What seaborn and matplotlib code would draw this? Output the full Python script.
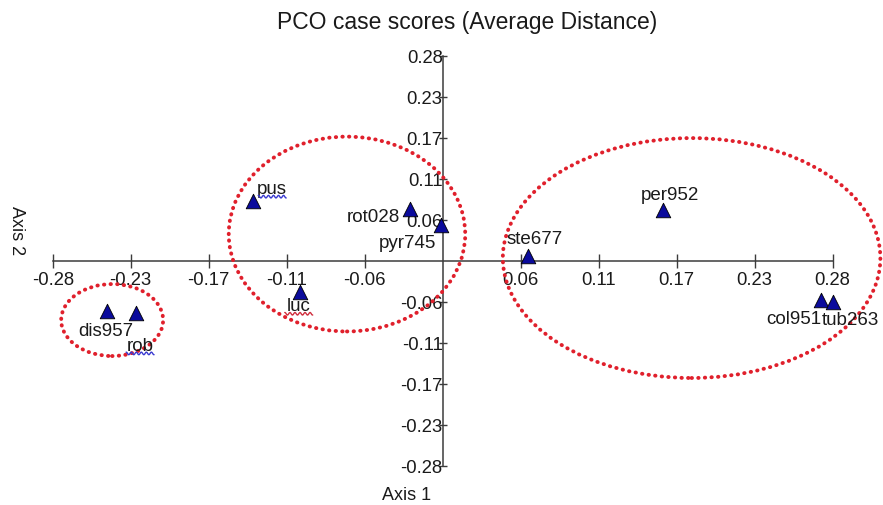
import matplotlib
matplotlib.use("Agg")
import matplotlib.pyplot as plt
import matplotlib.transforms as mtransforms
from matplotlib.patches import Ellipse
import numpy as np
import pandas as pd
import seaborn as sns

# PCO scores
cases = ["pus", "rot028", "pyr745", "luc", "dis957", "rob",
         "ste677", "per952", "col951", "tub263"]
axis1 = [-0.137, -0.0236, -0.0014, -0.103, -0.243, -0.2217,
         0.062, 0.1595, 0.2735, 0.2825]
axis2 = [0.0826, 0.071, 0.049, -0.0427, -0.0688, -0.0725,
         0.0069, 0.0697, -0.054, -0.057]

# label offsets from each marker, in pixels (dx, dy)
label_dx = [19, -37, -33, -1.5, -1, 4, 6, 7, -27, 17]
label_dy = [12, -7, -17, -14, -20, -32, 17, 16, -19, -17]

tick_values = [-0.282, -0.2256, -0.1692, -0.1128, -0.0564,
               0.0564, 0.1128, 0.1692, 0.2256, 0.282]
tick_labels = ["-0.28", "-0.23", "-0.17", "-0.11", "-0.06",
               "0.06", "0.11", "0.17", "0.23", "0.28"]

# hand-drawn group outlines: centre x, centre y, width, height
group_cx = [-0.239, -0.0692, 0.180]
group_cy = [-0.0816, 0.0367, 0.0037]
group_w = [0.0737, 0.171, 0.273]
group_h = [0.099, 0.268, 0.330]

# spell-check squiggles under some labels: case, colour
squiggle_case = ["pus", "rob", "luc"]
squiggle_color = ["#3a3ad0", "#3a3ad0", "#d03040"]

df = pd.DataFrame({"case": cases, "Axis 1": axis1, "Axis 2": axis2})

sns.set_style("white")
plt.rcParams["font.family"] = ["Liberation Sans", "DejaVu Sans"]

fig = plt.figure(figsize=(8.83, 5.06), dpi=100)
ax = fig.add_axes([0, 0, 1, 1])
ax.set_xlim(-0.3201, 0.3184)
ax.set_ylim(-0.336, 0.360)
ax.patch.set_alpha(0)

axis_color = "#3c3c3c"
text_color = "#1a1a1a"
for side in ["top", "right"]:
    ax.spines[side].set_visible(False)
ax.spines["left"].set_position(("data", 0))
ax.spines["bottom"].set_position(("data", 0))
ax.spines["left"].set_bounds(-0.282, 0.282)
ax.spines["bottom"].set_bounds(-0.282, 0.282)
for side in ["left", "bottom"]:
    ax.spines[side].set_color(axis_color)
    ax.spines[side].set_linewidth(1.1)

ax.set_xticks(tick_values)
ax.set_xticklabels(tick_labels)
ax.set_yticks(tick_values)
ax.set_yticklabels(tick_labels)
ax.tick_params(axis="x", bottom=True, direction="inout", length=9.4, width=1.0,
               color=axis_color, pad=3, labelsize=13.3, labelcolor=text_color)
ax.tick_params(axis="y", left=True, direction="inout", length=5.5, width=1.0,
               color=axis_color, pad=-2.8, labelsize=13.3, labelcolor=text_color)

for cx, cy, w, h in zip(group_cx, group_cy, group_w, group_h):
    ax.add_patch(Ellipse((cx, cy), w, h, fill=False, edgecolor="#e0202c",
                         linewidth=2.8, linestyle=(0, (0.1, 1.6)),
                         capstyle="round", zorder=4))

sns.scatterplot(data=df, x="Axis 1", y="Axis 2", marker="^", s=110,
                color="#0b0b9c", edgecolor="black", linewidth=0.6,
                ax=ax, zorder=5, legend=False)
ax.set_xlabel("")
ax.set_ylabel("")

for name, x, y, dx, dy in zip(cases, axis1, axis2, label_dx, label_dy):
    ax.annotate(name, (x, y), xytext=(dx * 0.72, dy * 0.72),
                textcoords="offset points", ha="center", va="center",
                fontsize=13.5, color=text_color, zorder=6)

# wavy underline like in the source document
fig.canvas.draw()
wave_x = np.linspace(-14, 14, 57)
wave_y = 1.3 * np.sin(wave_x * 1.25)
for name, col in zip(squiggle_case, squiggle_color):
    i = cases.index(name)
    px, py = ax.transData.transform((axis1[i], axis2[i]))
    tx, ty = px + label_dx[i], py + label_dy[i] - 8
    tr = mtransforms.Affine2D().translate(tx, ty)
    ax.plot(wave_x, wave_y, color=col, linewidth=1.0, transform=tr, zorder=6)

fig.text(0.529, 0.9565, "PCO case scores (Average Distance)",
         ha="center", va="center", fontsize=16.5, color=text_color)
fig.text(0.019, 0.5435, "Axis 2", rotation=270, ha="center", va="center",
         fontsize=13, color=text_color)
fig.text(0.46, 0.0217, "Axis 1", ha="center", va="center",
         fontsize=13, color=text_color)

fig.savefig("out.png", dpi=100)
